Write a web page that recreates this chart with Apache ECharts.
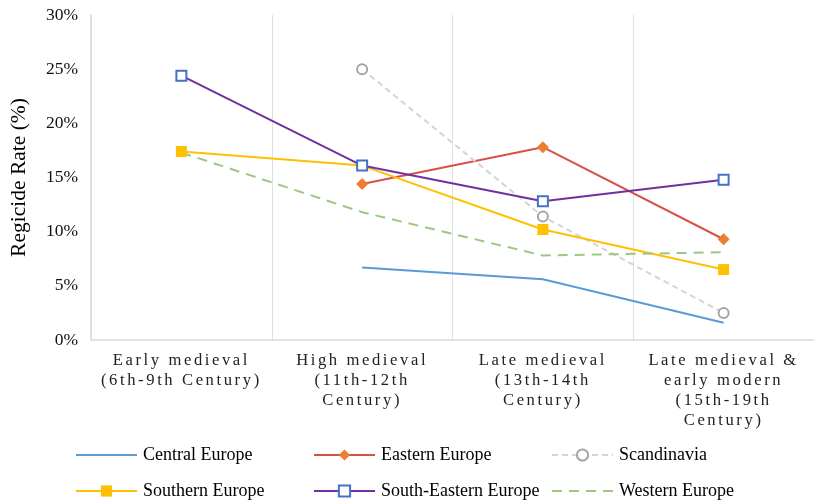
<!DOCTYPE html>
<html>
<head>
<meta charset="utf-8">
<script src="https://cdn.jsdelivr.net/npm/echarts@6/dist/echarts.min.js"></script>
<style>
  html, body { margin: 0; padding: 0; background: #fff; }
  #chart { width: 814px; height: 501px; }
</style>
</head>
<body>
<div id="chart"></div>
<script>
// periods on the x axis
var periods = [
  'Early medieval\n(6th-9th Century)',
  'High medieval\n(11th-12th\nCentury)',
  'Late medieval\n(13th-14th\nCentury)',
  'Late medieval &\nearly modern\n(15th-19th\nCentury)'
];

// regicide rates in %, null = no data
var centralEurope = [null, 6.7, 5.6, 1.6];
var easternEurope = [null, 14.4, 17.8, 9.3];
var scandinavia = [null, 25.0, 11.4, 2.5];
var southernEurope = [17.4, 16.1, 10.2, 6.5];
var southEasternEurope = [24.4, 16.1, 12.8, 14.8];
var westernEurope = [17.3, 11.8, 7.8, 8.1];

var serif = '"Liberation Serif", "Times New Roman", serif';

// the period labels are letter-spaced in the original; they are the only 16.6px text.
// set the spacing on every call so it can't leak into other text
var origFillText = CanvasRenderingContext2D.prototype.fillText;
CanvasRenderingContext2D.prototype.fillText = function (text, x, y, maxWidth) {
  if ('letterSpacing' in this) {
    this.letterSpacing = (this.font && this.font.indexOf('16.6px') >= 0) ? '2.6px' : '0px';
  }
  var r = maxWidth === undefined ? origFillText.call(this, text, x, y) : origFillText.call(this, text, x, y, maxWidth);
  if ('letterSpacing' in this) this.letterSpacing = '0px';
  return r;
};

var myChart = echarts.init(document.getElementById('chart'));

// one legend per item so they sit in a 3x2 grid like the original
function legendAt(name, left, top, noMarker) {
  var item = { name: name };
  if (noMarker) item.itemStyle = { opacity: 0 };
  return {
    data: [item],
    left: left,
    top: top,
    padding: 0,
    itemWidth: 61,
    itemHeight: 14,
    itemGap: 0,
    textStyle: { fontFamily: serif, fontSize: 18, color: '#000', padding: [0, 0, 0, 1] }
  };
}

var option = {
  animation: false,
  backgroundColor: '#fff',
  grid: { left: 90, right: 0, top: 15, bottom: 161, containLabel: false },
  legend: [
    legendAt('Central Europe', 75, 446, true),
    legendAt('Eastern Europe', 313, 446),
    legendAt('Scandinavia', 551, 446),
    legendAt('Southern Europe', 75, 482),
    legendAt('South-Eastern Europe', 313, 482),
    legendAt('Western Europe', 551, 482, true)
  ],
  xAxis: {
    type: 'category',
    data: periods,
    boundaryGap: true,
    axisLine: { lineStyle: { color: '#d9d9d9', width: 1.5 } },
    axisTick: { show: false },
    splitLine: { show: true, lineStyle: { color: '#e0e0e0', width: 1 } },
    axisLabel: {
      fontFamily: serif,
      fontSize: 16.6,
      color: '#222',
      lineHeight: 20.3,
      margin: 10,
      interval: 0
    }
  },
  yAxis: {
    type: 'value',
    min: 0,
    max: 30,
    interval: 5,
    name: 'Regicide Rate (%)',
    nameLocation: 'middle',
    nameGap: 61,
    nameTextStyle: { fontFamily: serif, fontSize: 21.5, color: '#000' },
    axisLine: { show: true, lineStyle: { color: '#d9d9d9', width: 1.5 } },
    axisTick: { show: false },
    splitLine: { show: false },
    axisLabel: {
      fontFamily: serif,
      fontSize: 17.5,
      color: '#111',
      margin: 13,
      formatter: '{value}%'
    }
  },
  series: [
    {
      name: 'Central Europe',
      type: 'line',
      data: centralEurope,
      symbol: 'none',
      color: '#5b9bd5',
      lineStyle: { color: '#5b9bd5', width: 2 }
    },
    {
      name: 'Eastern Europe',
      type: 'line',
      data: easternEurope,
      symbol: 'diamond',
      symbolSize: 12,
      itemStyle: { color: '#ed7d31' },
      lineStyle: { color: '#d9504a', width: 2 }
    },
    {
      name: 'Scandinavia',
      type: 'line',
      data: scandinavia,
      symbol: 'emptyCircle',
      symbolSize: 10,
      itemStyle: { color: '#a5a5a5', borderWidth: 1.5 },
      lineStyle: { color: '#d4d4d4', width: 2, type: [6, 4] }
    },
    {
      name: 'Southern Europe',
      type: 'line',
      data: southernEurope,
      symbol: 'rect',
      symbolSize: 11,
      itemStyle: { color: '#ffc000' },
      lineStyle: { color: '#ffc000', width: 2 }
    },
    {
      name: 'South-Eastern Europe',
      type: 'line',
      data: southEasternEurope,
      symbol: 'emptyRect',
      symbolSize: 10,
      itemStyle: { color: '#4472c4', borderWidth: 1.5 },
      lineStyle: { color: '#7030a0', width: 2 }
    },
    {
      name: 'Western Europe',
      type: 'line',
      data: westernEurope,
      symbol: 'none',
      color: '#9dc77f',
      lineStyle: { color: '#9dc77f', width: 2, type: [10, 7] }
    }
  ]
};

myChart.setOption(option);
</script>
</body>
</html>
